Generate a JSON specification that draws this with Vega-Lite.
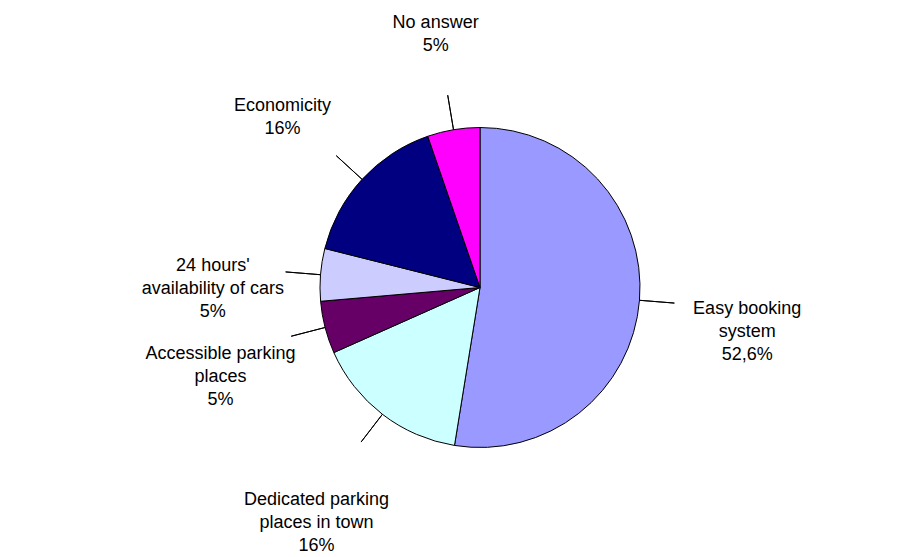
{
  "$schema": "https://vega.github.io/schema/vega-lite/v6.json",
  "width": 880,
  "height": 539,
  "autosize": {"type": "none"},
  "padding": {"left": 40, "top": 18, "right": 0, "bottom": 0},
  "background": "white",
  "config": {"view": {"stroke": null}},
  "data": {
    "values": [
      {"category": "Easy booking\nsystem", "share": 52.6, "pct": "52,6%"},
      {"category": "Dedicated parking\nplaces in town", "share": 15.8, "pct": "16%"},
      {"category": "Accessible parking\nplaces", "share": 5.3, "pct": "5%"},
      {"category": "24 hours'\navailability of cars", "share": 5.3, "pct": "5%"},
      {"category": "Economicity", "share": 15.8, "pct": "16%"},
      {"category": "No answer", "share": 5.3, "pct": "5%"}
    ]
  },
  "transform": [
    {"window": [{"op": "row_number", "as": "order"}]},
    {"window": [{"op": "sum", "field": "share", "as": "cum"}], "sort": [{"field": "order"}], "frame": [null, 0]},
    {"calculate": "datum.cum - datum.share / 2", "as": "mid"},
    {"calculate": "datum.category + '\\n' + datum.pct", "as": "label"}
  ],
  "layer": [
    {
      "mark": {"type": "arc", "radius": 160, "stroke": "black", "strokeWidth": 1},
      "encoding": {
        "theta": {"field": "share", "type": "quantitative", "stack": true, "scale": {"domain": [0, 100.1]}},
        "order": {"field": "order", "type": "quantitative"},
        "color": {
          "field": "category",
          "type": "nominal",
          "legend": null,
          "scale": {
            "domain": ["Easy booking\nsystem", "Dedicated parking\nplaces in town", "Accessible parking\nplaces", "24 hours'\navailability of cars", "Economicity", "No answer"],
            "range": ["#9999FF", "#CCFFFF", "#660066", "#CCCCFF", "#000080", "#FF00FF"]
          }
        }
      }
    },
    {
      "mark": {"type": "arc", "radius": 195, "radius2": 160, "fillOpacity": 0, "fill": "white", "stroke": "black", "strokeWidth": 1},
      "encoding": {
        "theta": {"field": "mid", "type": "quantitative", "stack": null},
        "theta2": {"field": "mid"}
      }
    },
    {
      "mark": {"type": "text", "radius": 268, "font": "Liberation Sans", "fontSize": 18, "lineBreak": "\n", "lineHeight": 23, "align": "center", "baseline": "middle", "color": "black"},
      "encoding": {
        "theta": {"field": "mid", "type": "quantitative", "stack": null},
        "text": {"field": "label", "type": "nominal"}
      }
    }
  ]
}
